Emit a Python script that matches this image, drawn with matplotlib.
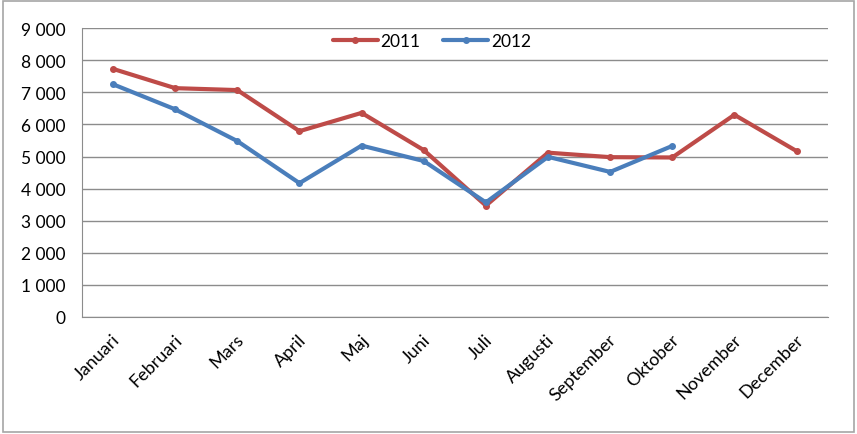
import matplotlib.pyplot as plt
from matplotlib.patches import Rectangle
from matplotlib.ticker import FuncFormatter
from matplotlib.transforms import ScaledTranslation

months = ["Januari", "Februari", "Mars", "April", "Maj", "Juni", "Juli",
          "Augusti", "September", "Oktober", "November", "December"]
values_2011 = [7730, 7130, 7070, 5790, 6360, 5200, 3470, 5120, 4980, 4970, 6300, 5170]
values_2012 = [7250, 6470, 5480, 4170, 5340, 4860, 3570, 4990, 4520, 5330]
y_ticks = list(range(0, 10000, 1000))

plt.rcParams['font.family'] = ['Lato', 'DejaVu Sans']

fig = plt.figure(figsize=(8.57, 4.35), dpi=100)
fig.patches.append(Rectangle((0.003, 0.004), 0.994, 0.992, transform=fig.transFigure,
                             fill=False, edgecolor='#a6a6a6', linewidth=1.2))
ax = fig.add_axes([0.0957, 0.269, 0.870, 0.664])

red = '#be4b48'
blue = '#4a7ebb'
ax.plot(range(len(values_2011)), values_2011, color=red, lw=3, marker='o', ms=4,
        label='2011', solid_capstyle='round', zorder=3)
ax.plot(range(len(values_2012)), values_2012, color=blue, lw=3, marker='o', ms=4,
        label='2012', solid_capstyle='round', zorder=4)

ax.set_xlim(-0.5, len(months) - 0.5)
ax.set_ylim(0, 9000)
ax.set_yticks(y_ticks)
ax.yaxis.set_major_formatter(FuncFormatter(lambda v, p: f"{int(v):,}".replace(",", " ")))
ax.grid(axis='y', color='#8c8c8c', linewidth=1)
ax.set_axisbelow(True)

ax.set_xticks(range(len(months)))
ax.set_xticklabels(months, rotation=45, ha='right', va='center', rotation_mode='anchor')
ax.tick_params(axis='x', length=0, pad=14, labelsize=13)
ax.tick_params(axis='y', length=0, pad=12, labelsize=12.5)
# nudge rotated labels a little to the right, as in the original
for lbl in ax.get_xticklabels():
    lbl.set_transform(lbl.get_transform() + ScaledTranslation(4 / 100, 0, fig.dpi_scale_trans))

for side in ['top', 'right']:
    ax.spines[side].set_visible(False)
for side in ['left', 'bottom']:
    ax.spines[side].set_color('#8c8c8c')

ax.legend(loc='center', bbox_to_anchor=(0.469, 0.955), ncol=2, frameon=False,
          fontsize=12.5, handlelength=2.6, columnspacing=1.3, handletextpad=0.15)

fig.savefig("out.png", dpi=100)
